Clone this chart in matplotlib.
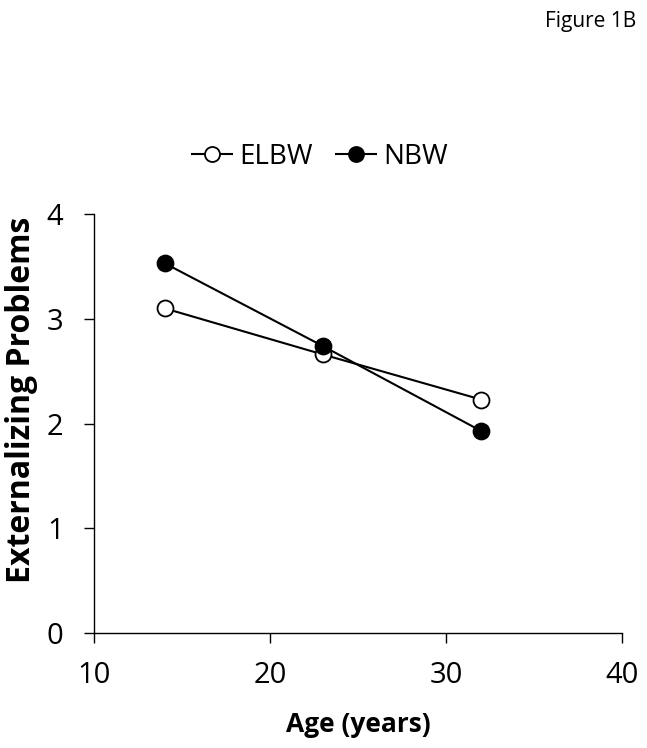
import matplotlib.pyplot as plt

plt.rcParams['font.family'] = ['Open Sans', 'DejaVu Sans']

ages = [14, 23, 32]
elbw = [3.10, 2.66, 2.23]
nbw = [3.53, 2.74, 1.93]

fig = plt.figure(figsize=(6.47, 7.48), dpi=100)
ax = fig.add_axes([0.1458, 0.1533, 0.8153, 0.5606])

ax.plot(ages, elbw, color='black', lw=1.5, marker='o', ms=11.5,
        mfc='white', mec='black', mew=1.3, label='ELBW', zorder=3)
ax.plot(ages, nbw, color='black', lw=1.5, marker='o', ms=11.5,
        mfc='black', mec='black', mew=1.3, label='NBW', zorder=3)

ax.set_xlim(10, 40)
ax.set_ylim(0, 4)
ax.set_xticks([10, 20, 30, 40])
ax.set_yticks([0, 1, 2, 3, 4])
ax.spines['top'].set_visible(False)
ax.spines['right'].set_visible(False)
for s in ['left', 'bottom']:
    ax.spines[s].set_linewidth(1.0)
ax.tick_params(direction='out', length=7.2, width=1.0, labelsize=21)
ax.tick_params(axis='x', pad=13)
ax.tick_params(axis='y', pad=15)

ax.set_xlabel('Age (years)', fontsize=19, fontweight='bold')
ax.xaxis.set_label_coords(0.5, -0.2354)
ax.xaxis.label.set_va('baseline')
ax.set_ylabel('Externalizing Problems', fontsize=23, fontweight='bold')
ax.yaxis.set_label_coords(-0.1376, 0.556)
ax.yaxis.label.set_va('center')

ax.legend(loc='center', bbox_to_anchor=(0.4946, 0.7905),
          bbox_transform=fig.transFigure, ncol=2, frameon=False,
          fontsize=20, handlelength=1.44, handletextpad=0.28,
          columnspacing=0.83, markerscale=0.94)

fig.text(0.984, 0.9643, 'Figure 1B', ha='right', va='baseline', fontsize=15)

fig.savefig('out.png', dpi=100)
